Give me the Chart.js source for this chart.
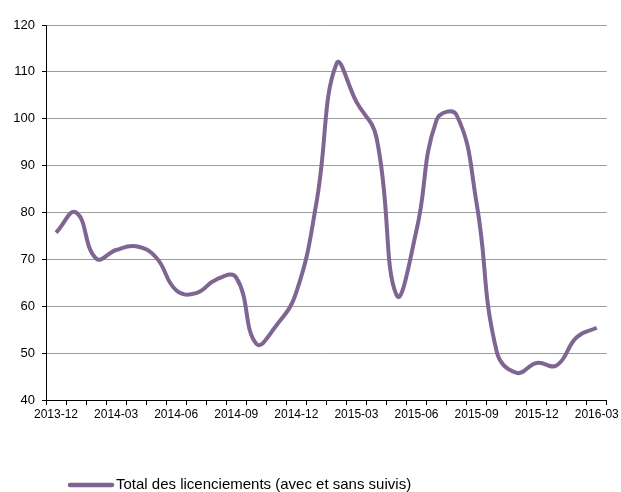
<!DOCTYPE html>
<html>
<head>
<meta charset="utf-8">
<script src="https://cdn.jsdelivr.net/npm/chart.js@4/dist/chart.umd.min.js"></script>
<style>
  html, body { margin: 0; padding: 0; background: #fff; }
  #wrap { width: 621px; height: 492px; position: relative; }
</style>
</head>
<body>
<div id="wrap"><canvas id="chart"></canvas></div>
<script>
// mois de 2013-12 à 2016-03
const months = [
  "2013-12", "2014-01", "2014-02", "2014-03", "2014-04", "2014-05", "2014-06",
  "2014-07", "2014-08", "2014-09", "2014-10", "2014-11", "2014-12", "2015-01",
  "2015-02", "2015-03", "2015-04", "2015-05", "2015-06", "2015-07", "2015-08",
  "2015-09", "2015-10", "2015-11", "2015-12", "2016-01", "2016-02", "2016-03"
];
const licenciements = [
  75.7, 80.0, 70.2, 72.0, 72.8, 70.4, 63.4, 62.8, 65.7, 66.1, 52.0, 55.9, 63.0, 82.0,
  111.7, 103.6, 96.0, 62.4, 76.2, 99.7, 100.8, 82.0, 50.4, 45.8, 47.9, 47.4, 53.4, 55.4
];
const seriesLabel = "Total des licenciements (avec et sans suivis)";
const yTicks = [40, 50, 60, 70, 80, 90, 100, 110, 120];

const lineColor = "#7f6591";

// légende dessinée à la main (trait + texte), en bas à gauche
const bottomLegend = {
  id: "bottomLegend",
  afterDraw(chart) {
    const ctx = chart.ctx;
    const y = 485;
    ctx.save();
    ctx.strokeStyle = lineColor;
    ctx.lineWidth = 4.5;
    ctx.lineCap = "round";
    ctx.beginPath();
    ctx.moveTo(70, y);
    ctx.lineTo(112, y);
    ctx.stroke();
    ctx.fillStyle = "#000";
    ctx.font = "15px 'Liberation Sans', Arial, sans-serif";
    ctx.textBaseline = "middle";
    ctx.fillText(chart.data.datasets[0].label, 116, y);
    ctx.restore();
  }
};

new Chart(document.getElementById("chart"), {
  type: "line",
  data: {
    labels: months,
    datasets: [{
      label: seriesLabel,
      data: licenciements,
      borderColor: lineColor,
      borderWidth: 4,
      tension: 0.45,
      pointRadius: 0,
      fill: false
    }]
  },
  options: {
    responsive: true,
    maintainAspectRatio: false,
    animation: false,
    layout: { padding: { top: 25, right: 13, bottom: 72, left: 0 } },
    plugins: {
      legend: { display: false },
      tooltip: { enabled: false }
    },
    scales: {
      x: {
        offset: true,
        grid: {
          offset: true,
          drawOnChartArea: false,
          drawTicks: true,
          tickLength: 5,
          tickColor: "#000"
        },
        border: { color: "#000", width: 1 },
        ticks: {
          autoSkip: false,
          maxRotation: 0,
          color: "#000",
          font: { family: "'Liberation Sans', Arial, sans-serif", size: 12 },
          padding: 2,
          callback: function (v, i) { return i % 3 === 0 ? months[i] : ""; }
        },
        afterFit(scale) { scale.height = 20; }
      },
      y: {
        min: 40,
        max: 120,
        afterBuildTicks(scale) { scale.ticks = yTicks.map(v => ({ value: v })); },
        grid: {
          color: "#9c9c9c",
          tickColor: "#000",
          tickLength: 4,
          lineWidth: 1
        },
        border: { color: "#000", width: 1 },
        ticks: {
          color: "#000",
          font: { family: "'Liberation Sans', Arial, sans-serif", size: 13 },
          padding: 7
        },
        afterFit(scale) { scale.width = 46; }
      }
    }
  },
  plugins: [bottomLegend]
});
</script>
</body>
</html>
